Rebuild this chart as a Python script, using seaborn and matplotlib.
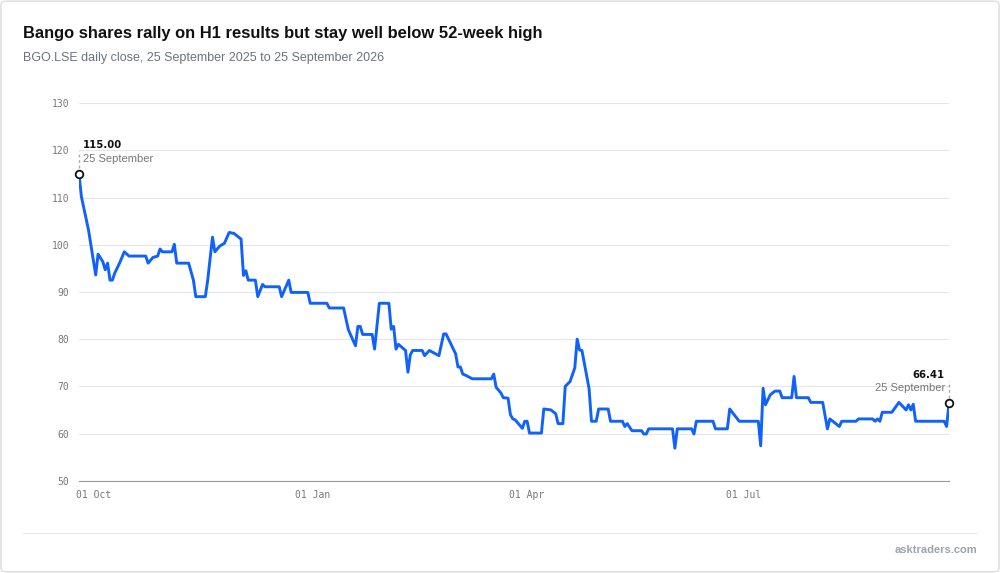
import matplotlib
matplotlib.use("Agg")
import matplotlib.pyplot as plt
from matplotlib.patches import FancyBboxPatch
from matplotlib.lines import Line2D
import seaborn as sns
import pandas as pd

start_date = "2025-09-25"
day_offsets = [0,1,4,7,8,10,11,12,13,14,15,17,19,21,28,29,31,33,34,35,39,40,41,46,48,49,53,54,56,57,59,61,63,65,68,69,70,71,74,75,77,78,84,85,88,89,96,97,104,105,111,113,116,117,118,119,123,124,126,130,131,132,133,134,137,138,139,140,144,145,147,151,153,154,158,159,160,161,162,165,173,174,175,177,178,180,181,182,183,186,187,188,189,194,195,198,200,201,203,204,206,208,209,210,211,214,215,217,218,222,223,228,229,230,232,236,237,238,239,249,250,251,257,258,259,266,267,272,273,277,285,286,287,288,290,292,294,295,299,300,301,306,307,312,314,315,319,320,326,327,333,334,335,336,337,341,344,347,348,349,350,351,363,364,365]
closes = [115.0,110.2,103.1,93.6,98.0,96.4,94.7,96.1,92.5,92.5,94.0,96.1,98.5,97.6,97.6,96.1,97.3,97.6,99.1,98.5,98.5,100.1,96.1,96.1,92.5,89.0,89.0,92.5,101.6,98.5,99.7,100.3,102.6,102.4,101.2,93.5,94.5,92.5,92.5,89.0,91.6,91.1,91.1,89.0,92.5,89.9,89.9,87.6,87.6,86.6,86.6,82.0,78.6,82.7,82.7,81.0,81.0,77.9,87.6,87.6,82.1,82.7,77.9,78.9,77.6,73.0,76.7,77.6,77.6,76.5,77.6,76.5,81.1,81.1,76.9,74.1,74.1,72.6,72.4,71.6,71.6,72.6,69.8,68.6,67.6,67.5,64.0,63.1,62.9,61.1,62.6,62.6,60.1,60.1,65.2,65.0,64.2,62.1,62.1,70.0,71.0,73.9,80.0,77.7,77.6,69.5,62.6,62.6,65.2,65.2,62.6,62.6,61.5,62.1,60.6,60.6,59.9,59.9,61.0,61.0,56.9,61.0,61.0,59.9,62.6,62.6,61.0,61.0,65.2,62.6,62.6,57.4,69.6,66.1,68.2,69.0,69.0,67.6,67.6,72.1,67.6,67.6,66.6,66.6,61.0,63.1,61.5,62.6,62.6,63.1,63.1,62.6,63.1,62.6,64.5,64.5,66.6,65.0,66.1,65.0,66.2,62.6,62.6,61.5,66.41]
tick_dates = ["2025-10-01", "2026-01-01", "2026-04-01", "2026-07-01"]
tick_labels = ["01 Oct", "01 Jan", "01 Apr", "01 Jul"]
y_ticks = [50, 60, 70, 80, 90, 100, 110, 120, 130]

dates = pd.Timestamp(start_date) + pd.to_timedelta(day_offsets, unit="D")
df = pd.DataFrame({"date": dates, "close": closes})

sns.set_theme(style="white")
plt.rcParams['font.family'] = ['Liberation Sans', 'DejaVu Sans']

fig = plt.figure(figsize=(10, 5.73), dpi=100)
box = FancyBboxPatch((0.001, 0.002), 0.998, 0.996, boxstyle="round,pad=0,rounding_size=0.006",
                     transform=fig.transFigure, fc="white", ec="#dcdcdc", lw=1, zorder=-10)
fig.patches.append(box)
ax = fig.add_axes([0.079, 0.161, 0.870, 0.659])
ax.set_facecolor("none")
sns.lineplot(data=df, x="date", y="close", ax=ax, color="#1062fb", lw=2.1)

ax.set_xlim(dates[0], dates[-1])
ax.set_ylim(50, 130)
ax.set_yticks(y_ticks)
ax.set_yticklabels([str(v) for v in y_ticks], family="DejaVu Sans Mono", fontsize=7, color="#777777")
ax.set_xticks(pd.to_datetime(tick_dates))
ax.set_xticklabels(tick_labels, family="DejaVu Sans Mono", fontsize=7, color="#777777")
ax.tick_params(axis="y", length=0, pad=7)
ax.tick_params(axis="x", length=0, pad=7)
ax.grid(axis="y", color="#e6e6e6", lw=0.8)
for s in ["top", "right", "left"]:
    ax.spines[s].set_visible(False)
ax.spines["bottom"].set_color("#999999")
ax.spines["bottom"].set_linewidth(0.8)
ax.set_xlabel(""); ax.set_ylabel("")

for d, v, ha, dx in [(dates[0], closes[0], "left", 3), (dates[-1], closes[-1], "right", -3)]:
    ax.plot([d], [v], marker="o", ms=5.5, mfc="white", mec="#111111", mew=1.3, zorder=5, clip_on=False)
    ax.plot([d, d], [v + 1.2, v + 4.8], color="#aaaaaa", ls=(0, (2, 2)), lw=1, zorder=4, clip_on=False)
    ax.annotate(f"{v:.2f}", (d, v), xytext=(dx, 18.5), textcoords="offset points", ha=ha,
                fontsize=7.3, fontweight="bold", color="#111111", family="DejaVu Sans")
    ax.annotate("25 September", (d, v), xytext=(dx, 8.5), textcoords="offset points", ha=ha,
                fontsize=8, color="#777777")

fig.text(0.023, 0.942, "Bango shares rally on H1 results but stay well below 52-week high",
         fontsize=11.9, fontweight="bold", color="#111111", va="center")
fig.text(0.023, 0.899, "BGO.LSE daily close, 25 September 2025 to 25 September 2026",
         fontsize=9.0, color="#6b7280", va="center")
fig.lines.append(Line2D([0.023, 0.977], [0.070, 0.070], transform=fig.transFigure, color="#e8e8e8", lw=0.8))
fig.text(0.977, 0.041, "asktraders.com", fontsize=8, fontweight="bold", color="#9ca3af", ha="right", va="center")

fig.savefig("out.png", dpi=100)
